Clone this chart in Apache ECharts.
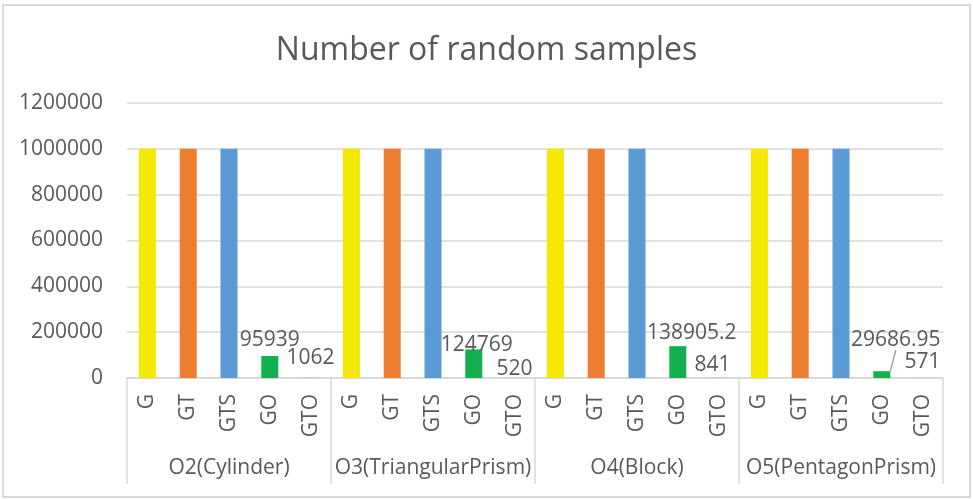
<!DOCTYPE html>
<html>
<head>
<meta charset="utf-8">
<script src="https://cdn.jsdelivr.net/npm/echarts@6/dist/echarts.min.js"></script>
<style>
html,body{margin:0;padding:0;background:#fff;}
#chart{width:973px;height:499px;}
</style>
</head>
<body>
<div id="chart"></div>
<script>
const groups = ['O2(Cylinder)', 'O3(TriangularPrism)', 'O4(Block)', 'O5(PentagonPrism)'];
const methods = ['G', 'GT', 'GTS', 'GO', 'GTO'];
const G = [1000000, 1000000, 1000000, 1000000];
const GT = [1000000, 1000000, 1000000, 1000000];
const GTS = [1000000, 1000000, 1000000, 1000000];
const GO = [95939, 124769, 138905.2, 29686.95];
const GTO = [1062, 520, 841, 571];
const yTicks = [0, 200000, 400000, 600000, 800000, 1000000, 1200000];

const seriesValues = { G: G, GT: GT, GTS: GTS, GO: GO, GTO: GTO };
const methodColors = { G: '#F5E800', GT: '#ED7D31', GTS: '#5B9BD5', GO: '#12B04F', GTO: '#A5A5A5' };
const labeled = { GO: true, GTO: true };
// label nudges [dx, dy] per group for GO and GTO (style only)
const labelShift = {
  GO: [[0, 0], [3, 11], [14, 2], [14, -16]],
  GTO: [[0, -4], [0, 7], [-6, 3], [0, 0]]
};

const categories = [];
const barData = [];
const shiftByIndex = {};
groups.forEach(function (g, gi) {
  methods.forEach(function (m) {
    const idx = categories.length;
    categories.push(m);
    barData.push({
      value: seriesValues[m][gi],
      itemStyle: { color: methodColors[m] },
      label: { show: !!labeled[m] },
      labelLine: { show: (m === 'GO' && gi === 3) }
    });
    if (labeled[m]) shiftByIndex[idx] = labelShift[m][gi];
  });
});

const FONT = 'Open Sans';
const TXT = '#595959';
const FS = 21;
const chart = echarts.init(document.getElementById('chart'));
chart.setOption({
  animation: false,
  backgroundColor: '#ffffff',
  title: {
    text: 'Number of random samples',
    left: 'center',
    top: 30,
    textStyle: { fontFamily: FONT, fontSize: 32, fontWeight: 'normal', color: TXT }
  },
  graphic: [{
    type: 'rect',
    shape: { x: 3, y: 5, width: 967, height: 492 },
    style: { fill: 'none', stroke: '#d9d9d9', lineWidth: 2 },
    silent: true
  }],
  grid: { left: 127, right: 30, top: 103, bottom: 121, containLabel: false },
  xAxis: [{
    type: 'category',
    data: categories,
    position: 'bottom',
    axisLine: { show: true, lineStyle: { color: '#d9d9d9', width: 1.5 } },
    axisTick: { show: false },
    axisLabel: { rotate: 90, margin: 16, interval: 0, fontFamily: FONT, fontSize: FS, color: TXT }
  }, {
    type: 'category',
    data: groups,
    position: 'bottom',
    axisLine: { show: true, lineStyle: { color: '#d9d9d9', width: 1.5 } },
    axisTick: { show: true, length: 106, lineStyle: { color: '#d9d9d9', width: 1.5 } },
    axisLabel: { margin: 80, interval: 0, fontFamily: FONT, fontSize: FS, color: TXT }
  }],
  yAxis: {
    type: 'value',
    min: yTicks[0],
    max: yTicks[yTicks.length - 1],
    interval: yTicks[1] - yTicks[0],
    axisLine: { show: false },
    axisTick: { show: false },
    splitLine: { lineStyle: { color: '#d9d9d9', width: 1.5 } },
    axisLabel: {
      margin: 24, fontFamily: FONT, fontSize: FS, color: TXT,
      formatter: function (v) { return String(v); }
    }
  },
  series: [{
    type: 'bar',
    xAxisIndex: 0,
    data: barData,
    barWidth: 17,
    label: {
      show: false,
      position: 'top',
      distance: 5,
      fontFamily: FONT,
      fontSize: FS,
      color: TXT
    },
    labelLine: { show: false, lineStyle: { color: '#a6a6a6', width: 1.5 } },
    labelLayout: function (p) {
      const s = shiftByIndex[p.dataIndex];
      if (!s) return {};
      return { dx: s[0], dy: s[1] };
    }
  }]
});
</script>
</body>
</html>
